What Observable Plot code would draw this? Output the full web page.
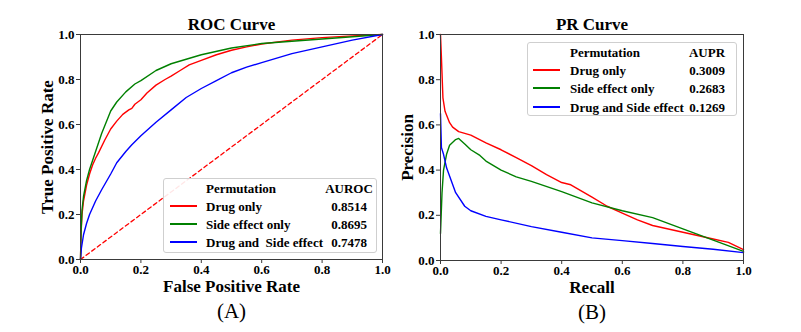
<!DOCTYPE html>
<html>
<head>
<meta charset="utf-8">
<script src="https://cdn.jsdelivr.net/npm/d3@7"></script>
<script src="https://cdn.jsdelivr.net/npm/@observablehq/plot@0.6"></script>
<style>
  body { margin: 0; background: #fff; }
  #wrap { position: relative; width: 801px; height: 332px; font-family: "Liberation Serif", "Times New Roman", serif; overflow: hidden; }
  .panel { position: absolute; top: 0; }
  .legend { position: absolute; border: 1px solid #cfcfcf; border-radius: 3px; background: rgba(255,255,255,0.9); font-weight: bold; font-size: 13px; color: #000; box-sizing: border-box; }
  .legend span { position: absolute; transform: translateY(-50%); white-space: pre; line-height: 1; }
  .legend b { position: absolute; height: 2px; margin-top: -1px; display: block; }
</style>
</head>
<body>
<div id="wrap"></div>
<script>
// ---------- data ----------
const seriesNames = ["Drug only", "Side effect only", "Drug and Side effect"];
const seriesNamesRoc = ["Drug only", "Side effect only", "Drug and  Side effect"];
const seriesColors = ["#ff0000", "#008000", "#0000ff"];
const aurocValues = ["0.8514", "0.8695", "0.7478"];
const auprValues = ["0.3009", "0.2683", "0.1269"];
const tickValues = [0, 0.2, 0.4, 0.6, 0.8, 1.0];
const chanceLine = [0, 1];

// ROC: [FPR, TPR]
const rocDrug = [[0,0],[0.002,0.12],[0.005,0.2],[0.01,0.26],[0.02,0.33],[0.03,0.38],[0.04,0.42],[0.05,0.45],[0.06,0.475],[0.08,0.53],[0.1,0.58],[0.12,0.615],[0.14,0.645],[0.16,0.665],[0.17,0.672],[0.18,0.69],[0.2,0.71],[0.22,0.74],[0.25,0.775],[0.28,0.80],[0.3,0.815],[0.33,0.84],[0.36,0.865],[0.4,0.885],[0.45,0.91],[0.5,0.93],[0.55,0.945],[0.6,0.958],[0.7,0.975],[0.8,0.986],[0.9,0.994],[1,1]];
const rocSide = [[0,0],[0.002,0.13],[0.005,0.22],[0.01,0.28],[0.02,0.35],[0.03,0.4],[0.04,0.44],[0.05,0.48],[0.07,0.56],[0.1,0.66],[0.12,0.70],[0.15,0.745],[0.18,0.78],[0.2,0.795],[0.25,0.84],[0.3,0.87],[0.35,0.89],[0.4,0.91],[0.5,0.94],[0.6,0.96],[0.7,0.97],[0.8,0.98],[0.9,0.99],[1,1]];
const rocBoth = [[0,0],[0.003,0.05],[0.01,0.11],[0.02,0.16],[0.03,0.2],[0.05,0.26],[0.07,0.31],[0.1,0.38],[0.12,0.43],[0.15,0.48],[0.17,0.51],[0.2,0.55],[0.25,0.61],[0.3,0.665],[0.35,0.72],[0.4,0.76],[0.45,0.795],[0.5,0.83],[0.55,0.855],[0.6,0.875],[0.7,0.915],[0.8,0.945],[0.9,0.975],[1,1]];

// PR: [Recall, Precision]
const prDrug = [[0,1.0],[0.003,0.9],[0.008,0.72],[0.015,0.66],[0.03,0.61],[0.04,0.59],[0.06,0.57],[0.1,0.555],[0.15,0.52],[0.2,0.49],[0.25,0.455],[0.3,0.42],[0.35,0.38],[0.4,0.345],[0.43,0.335],[0.5,0.28],[0.55,0.24],[0.6,0.21],[0.65,0.18],[0.7,0.155],[0.8,0.125],[0.9,0.095],[0.95,0.08],[1.0,0.048]];
const prSide = [[0,0.12],[0.005,0.3],[0.01,0.4],[0.02,0.47],[0.03,0.51],[0.05,0.535],[0.06,0.54],[0.08,0.515],[0.1,0.49],[0.13,0.465],[0.15,0.44],[0.2,0.4],[0.25,0.37],[0.3,0.35],[0.4,0.305],[0.5,0.255],[0.6,0.22],[0.7,0.19],[0.8,0.14],[0.9,0.09],[1.0,0.04]];
const prBoth = [[0,0.65],[0.003,0.5],[0.01,0.47],[0.02,0.41],[0.05,0.3],[0.08,0.24],[0.1,0.22],[0.15,0.195],[0.2,0.18],[0.3,0.15],[0.4,0.125],[0.5,0.1],[0.6,0.088],[0.7,0.075],[0.8,0.062],[0.9,0.05],[1.0,0.035]];

// ---------- build ----------
function toRows(list) {
  return list.flatMap((pts, i) => pts.map(([x, y]) => ({x, y, s: seriesNames[i]})));
}
const fmt = d3.format(".1f");
const FONT = "Liberation Serif, Times New Roman, serif";

function panel({width, ml, mr, mb, rows, title, xLabel, yLabel, tag, diag}) {
  const marks = [];
  if (diag) marks.push(Plot.line(chanceLine, {x: d => d, y: d => d, stroke: "#ff0000", strokeWidth: 1.3, strokeDasharray: "4,3"}));
  marks.push(Plot.line(rows, {x: "x", y: "y", z: "s", stroke: "s", strokeWidth: 1.4}));
  marks.push(Plot.frame({stroke: "#3a3a3a", strokeWidth: 1}));
  marks.push(Plot.axisX({ticks: tickValues, tickFormat: fmt, tickSize: 4, tickPadding: 1, label: null, fontSize: 13, fontWeight: "bold", stroke: "#3a3a3a"}));
  marks.push(Plot.axisY({ticks: tickValues, tickFormat: fmt, tickSize: 4, tickPadding: 2, label: null, fontSize: 13, fontWeight: "bold", stroke: "#3a3a3a"}));
  marks.push(Plot.text([title], {text: d => d, frameAnchor: "top", lineAnchor: "middle", dy: -10, fontSize: 17, fontWeight: "bold"}));
  marks.push(Plot.text([xLabel], {text: d => d, frameAnchor: "bottom", lineAnchor: "middle", dy: 27, fontSize: 17, fontWeight: "bold"}));
  marks.push(Plot.text([tag], {text: d => d, frameAnchor: "bottom", lineAnchor: "middle", dy: 52, fontSize: 21}));
  marks.push(Plot.text([yLabel], {text: d => d, frameAnchor: "left", textAnchor: "middle", lineAnchor: "middle", dx: -33, rotate: -90, fontSize: 17, fontWeight: "bold"}));
  return Plot.plot({
    width, height: 332,
    marginLeft: ml, marginRight: mr, marginTop: 34, marginBottom: mb,
    x: {domain: [0, 1]},
    y: {domain: [0, 1]},
    color: {domain: seriesNames, range: seriesColors},
    style: {fontFamily: FONT, color: "#000", background: "transparent", overflow: "visible"},
    marks
  });
}

const wrap = document.getElementById("wrap");

const roc = panel({width: 400, ml: 80, mr: 18, mb: 73, rows: toRows([rocDrug, rocSide, rocBoth]),
  title: "ROC Curve", xLabel: "False Positive Rate", yLabel: "True Positive Rate", tag: "(A)", diag: true});
roc.classList.add("panel"); roc.style.left = "0px";
wrap.appendChild(roc);

const pr = panel({width: 401, ml: 40, mr: 58, mb: 72, rows: toRows([prDrug, prSide, prBoth]),
  title: "PR Curve", xLabel: "Recall", yLabel: "Precision", tag: "(B)", diag: false});
pr.classList.add("panel"); pr.style.left = "400px";
wrap.appendChild(pr);

function legend({left, top, width, height, rowsY, lineX0, lineX1, labelX, valueCenter, header, names, values}) {
  const box = document.createElement("div");
  box.className = "legend";
  Object.assign(box.style, {left: left + "px", top: top + "px", width: width + "px", height: height + "px"});
  const add = (txt, x, y, center) => {
    const s = document.createElement("span");
    s.textContent = txt;
    s.style.left = x + "px"; s.style.top = y + "px";
    if (center) s.style.transform = "translate(-50%,-50%)";
    box.appendChild(s);
  };
  add("Permutation", labelX, rowsY[0]);
  add(header, valueCenter, rowsY[0], true);
  names.forEach((n, i) => {
    const ln = document.createElement("b");
    Object.assign(ln.style, {left: lineX0 + "px", width: (lineX1 - lineX0) + "px", top: rowsY[i + 1] + "px", background: seriesColors[i]});
    box.appendChild(ln);
    add(n, labelX, rowsY[i + 1]);
    add(values[i], valueCenter, rowsY[i + 1], true);
  });
  wrap.appendChild(box);
}

legend({left: 163, top: 178, width: 214, height: 75, rowsY: [9, 27, 45, 63], lineX0: 6, lineX1: 33, labelX: 42,
  valueCenter: 185, header: "AUROC", names: seriesNamesRoc, values: aurocValues});
legend({left: 527, top: 42, width: 210, height: 74, rowsY: [9, 27, 45, 64], lineX0: 5, lineX1: 32, labelX: 42,
  valueCenter: 179, header: "AUPR", names: seriesNames, values: auprValues});
</script>
</body>
</html>
